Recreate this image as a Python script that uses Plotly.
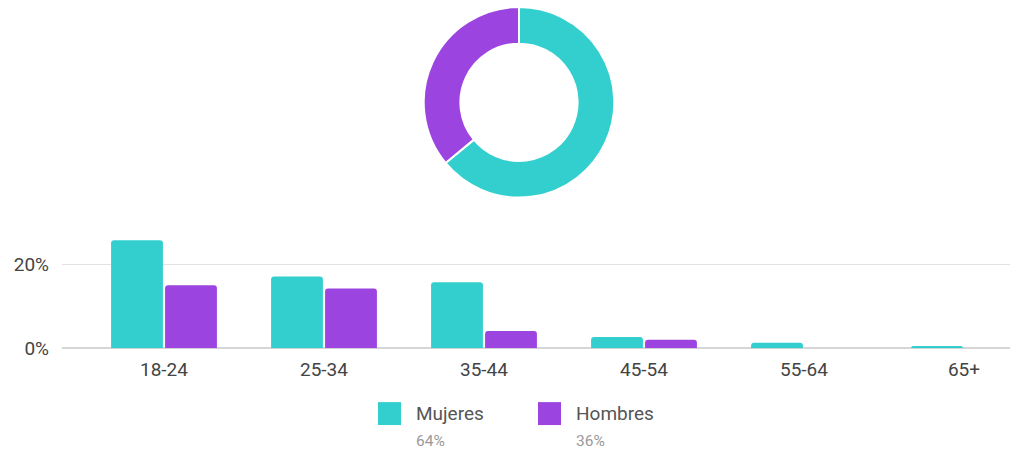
import plotly.graph_objects as go

age_groups = ["18-24", "25-34", "35-44", "45-54", "55-64", "65+"]
mujeres = [25.7, 17.1, 15.7, 2.7, 1.3, 0.5]
hombres = [15.0, 14.2, 4.1, 2.0, 0.0, 0.0]
gender_labels = ["Mujeres", "Hombres"]
gender_share = [64, 36]
y_ticks = [0, 20]
y_tick_labels = ["0%", "20%"]

TEAL = "#33cfcf"
PURPLE = "#9c44e0"
W, H = 1013, 457
H_EFF = 446  # observed vertical mapping in the rendered capture

def px_x(p):
    return p / W

def px_y(p):
    return 1 - p / H_EFF

fig = go.Figure()

fig.add_trace(go.Pie(
    labels=gender_labels, values=gender_share,
    hole=0.615, sort=False, direction="clockwise", rotation=0,
    marker=dict(colors=[TEAL, PURPLE], line=dict(color="white", width=2)),
    textinfo="none", showlegend=False,
    domain=dict(x=[px_x(422), px_x(616)], y=[px_y(198), px_y(7)]),
))

fig.add_trace(go.Bar(x=age_groups, y=mujeres, name="Mujeres",
                     marker=dict(color=TEAL, line=dict(width=0)), showlegend=False))
fig.add_trace(go.Bar(x=age_groups, y=hombres, name="Hombres",
                     marker=dict(color=PURPLE, line=dict(width=0)), showlegend=False))

# custom legend
legend_items = [(gender_labels[0], gender_share[0], TEAL, 378),
                (gender_labels[1], gender_share[1], PURPLE, 538)]
for name, share, col, x0 in legend_items:
    fig.add_shape(type="rect", xref="paper", yref="paper",
                  x0=px_x(x0), x1=px_x(x0 + 23), y0=px_y(426), y1=px_y(403),
                  fillcolor=col, line=dict(width=0), layer="above")
    fig.add_annotation(xref="paper", yref="paper", x=px_x(x0 + 36), y=px_y(414),
                       text=name, showarrow=False, xanchor="left", yanchor="middle",
                       font=dict(family="Roboto", size=19, color="#555555"))
    fig.add_annotation(xref="paper", yref="paper", x=px_x(x0 + 36), y=px_y(442),
                       text=f"{share}%", showarrow=False, xanchor="left", yanchor="middle",
                       font=dict(family="Roboto", size=15.5, color="#9a9a9a"))

x_right = 1010
cat_w = 160
x_first = 164
fig.update_layout(
    width=W, height=H,
    margin=dict(l=0, r=0, t=0, b=0),
    paper_bgcolor="white", plot_bgcolor="white",
    barmode="group", bargap=0.325, bargroupgap=0.04,
    barcornerradius=3,
    font=dict(family="Roboto", size=16, color="#444444"),
    xaxis=dict(domain=[px_x(62), px_x(x_right)],
               range=[-(x_first - 62) / cat_w, (x_right - x_first) / cat_w],
               showgrid=False, showline=False, ticks="", zeroline=False,
               ticklabelstandoff=8,
               tickfont=dict(size=19, color="#444444")),
    yaxis=dict(domain=[px_y(349), px_y(235)], range=[0, 27.1],
               tickvals=y_ticks, ticktext=y_tick_labels,
               showgrid=True, gridcolor="#e2e2e2", gridwidth=1,
               zeroline=True, zerolinecolor="#d6d6d6", zerolinewidth=2,
               showline=False, ticks="", ticklabelstandoff=12,
               tickfont=dict(size=19, color="#444444")),
)

fig.write_html("out.html", config={"displayModeBar": False},
               post_script="document.body.style.margin='0';document.body.style.overflow='hidden';")
